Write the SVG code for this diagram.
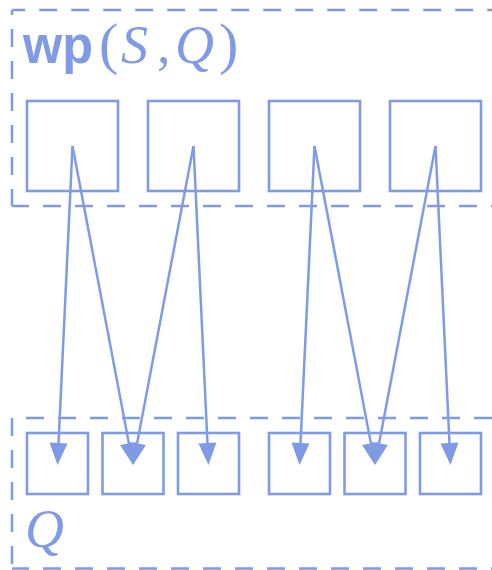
<svg xmlns="http://www.w3.org/2000/svg" width="492" height="570" viewBox="0 0 492 570">
  <defs>
    <style>
      .frame { fill: none; stroke: #7f9be6; stroke-width: 2.5; stroke-dasharray: 18 14; }
      .cell { fill: #ffffff; stroke: #7f9be6; stroke-width: 2.6; }
      .edge { fill: none; stroke: #7f9be6; stroke-width: 2.5; marker-end: url(#head); }
      .bold { font-family: "Liberation Sans", Arial, sans-serif; font-weight: bold; fill: #7f9be6; }
      .math { font-family: "Liberation Serif", "Times New Roman", serif; fill: #7f9be6; }
      .it { font-style: italic; }
    </style>
    <marker id="head" markerUnits="userSpaceOnUse" viewBox="0 -9 22 18" markerWidth="22" markerHeight="18" refX="0" refY="0" orient="auto" overflow="visible">
      <path d="M0,-9 L22,0 L0,9 z" fill="#7f9be6"/>
    </marker>
  </defs>

  <rect width="492" height="570" fill="#ffffff"/>

  <!-- upper region: wp(S,Q) -->
  <g id="region-wp">
    <line class="frame" x1="12" y1="10" x2="492" y2="10" stroke-dashoffset="4.7"/>
    <line class="frame" x1="12" y1="10" x2="12" y2="206" stroke-dashoffset="13"/>
    <line class="frame" x1="12" y1="206" x2="492" y2="206" stroke-dashoffset="1"/>
    <text class="bold" x="23" y="63" font-size="54" textLength="70" lengthAdjust="spacingAndGlyphs">wp</text>
    <text class="math" y="63" font-size="54"><tspan x="99" font-size="58">(</tspan><tspan class="it" x="121">S</tspan><tspan x="157">,</tspan><tspan class="it" x="175">Q</tspan><tspan x="219" font-size="58">)</tspan></text>
  </g>

  <g id="top-1"><rect class="cell" x="27" y="101" width="91" height="90"/></g>
  <g id="top-2"><rect class="cell" x="148" y="101" width="91" height="90"/></g>
  <g id="top-3"><rect class="cell" x="269" y="101" width="91" height="90"/></g>
  <g id="top-4"><rect class="cell" x="390" y="101" width="91" height="90"/></g>

  <!-- lower region: Q -->
  <g id="region-q">
    <line class="frame" x1="12" y1="418" x2="492" y2="418" stroke-dashoffset="-14"/>
    <line class="frame" x1="12" y1="418" x2="12" y2="569"/>
    <line class="frame" x1="12" y1="568.5" x2="492" y2="568.5" stroke-dashoffset="1"/>
    <text class="math it" x="25" y="547" font-size="54">Q</text>
  </g>

  <g id="bottom-1"><rect class="cell" x="27" y="433" width="61" height="61"/></g>
  <g id="bottom-2"><rect class="cell" x="102.5" y="433" width="61" height="61"/></g>
  <g id="bottom-3"><rect class="cell" x="178" y="433" width="61" height="61"/></g>
  <g id="bottom-4"><rect class="cell" x="269" y="433" width="61" height="61"/></g>
  <g id="bottom-5"><rect class="cell" x="344.5" y="433" width="61" height="61"/></g>
  <g id="bottom-6"><rect class="cell" x="420" y="433" width="61" height="61"/></g>

  <!-- connectors: each upper cell maps to two lower cells -->
  <g id="connectors">
    <line class="edge" x1="72.5" y1="146" x2="58.53" y2="443.02"/>
    <line class="edge" x1="72.5" y1="146" x2="128.90" y2="443.39"/>
    <line class="edge" x1="193.5" y1="146" x2="137.10" y2="443.39"/>
    <line class="edge" x1="193.5" y1="146" x2="207.47" y2="443.02"/>
    <line class="edge" x1="314.5" y1="146" x2="300.53" y2="443.02"/>
    <line class="edge" x1="314.5" y1="146" x2="370.90" y2="443.39"/>
    <line class="edge" x1="435.5" y1="146" x2="379.10" y2="443.39"/>
    <line class="edge" x1="435.5" y1="146" x2="449.47" y2="443.02"/>
  </g>
</svg>
